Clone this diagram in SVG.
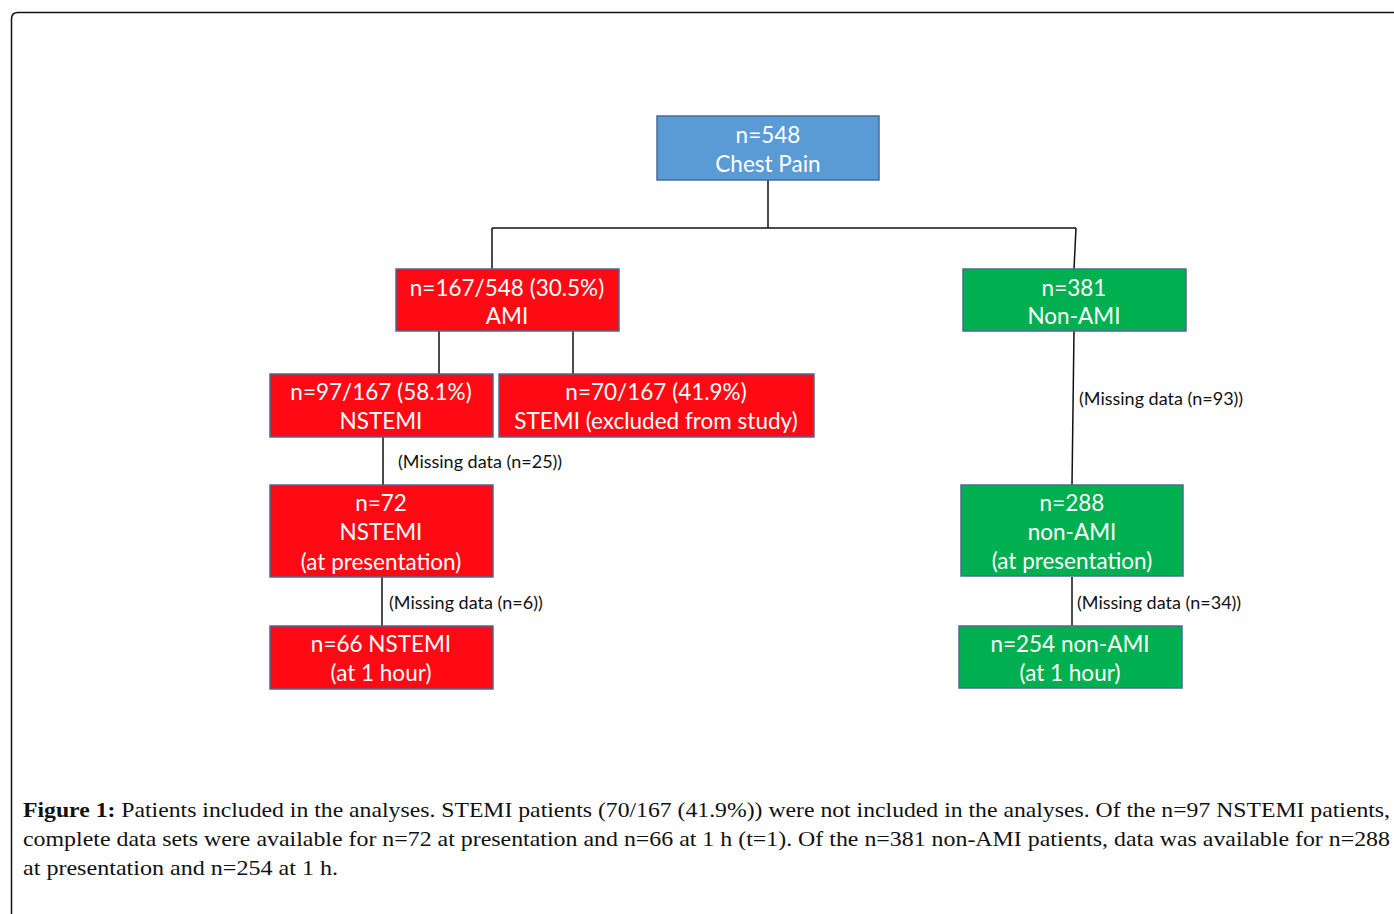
<svg xmlns="http://www.w3.org/2000/svg" width="1394" height="914" viewBox="0 0 1394 914">
<style>
.box{stroke:#4a6a96;stroke-width:1.5}
.blue{fill:#5b9bd5}
.red{fill:#ff0a14}
.green{fill:#00b050}
.bt{font-family:Lato,"Open Sans",sans-serif;font-size:22.5px;fill:#fff;text-anchor:middle}
.lab{font-family:Lato,"Open Sans",sans-serif;font-size:18px;fill:#111}
.cap{font-family:"Liberation Serif",serif;font-size:21px;fill:#111}
.conn line{stroke:#111;stroke-width:1.5}
</style>
<rect width="1394" height="914" fill="#fff"/>
<path d="M11.5,914 V19 Q11.5,12.5 18,12.5 H1394" fill="none" stroke="#111" stroke-width="1.5"/>
<g class="conn" id="connectors">
<line x1="768" y1="180" x2="768" y2="228"/>
<line x1="492" y1="228" x2="1076" y2="228"/>
<line x1="492" y1="228" x2="492" y2="269"/>
<line x1="1076" y1="228" x2="1074" y2="269"/>
<line x1="439" y1="331" x2="439" y2="374"/>
<line x1="573" y1="331" x2="573" y2="374"/>
<line x1="383" y1="437" x2="383" y2="485"/>
<line x1="382" y1="577" x2="382" y2="626"/>
<line x1="1074" y1="331" x2="1072" y2="485"/>
<line x1="1072" y1="577" x2="1072" y2="626"/>
</g>
<g id="chest"><rect class="box blue" x="657" y="116" width="222" height="64"/><text class="bt" x="768" y="143">n=548</text><text class="bt" x="768" y="172">Chest Pain</text></g>
<g id="ami"><rect class="box red" x="396" y="269" width="223" height="62"/><text class="bt" x="507" y="296">n=167/548 (30.5%)</text><text class="bt" x="507" y="324">AMI</text></g>
<g id="nonami"><rect class="box green" x="963" y="269" width="223" height="62"/><text class="bt" x="1074" y="296">n=381</text><text class="bt" x="1074" y="324">Non-AMI</text></g>
<g id="nstemi"><rect class="box red" x="270" y="374" width="223" height="63"/><text class="bt" x="381" y="400">n=97/167 (58.1%)</text><text class="bt" x="381" y="429">NSTEMI</text></g>
<g id="stemi"><rect class="box red" x="499" y="374" width="315" height="63"/><text class="bt" x="656" y="400">n=70/167 (41.9%)</text><text class="bt" x="656" y="429">STEMI (excluded from study)</text></g>
<g id="nstemi72"><rect class="box red" x="270" y="485" width="223" height="92"/><text class="bt" x="381" y="511">n=72</text><text class="bt" x="381" y="540">NSTEMI</text><text class="bt" x="381" y="570">(at presentation)</text></g>
<g id="nstemi66"><rect class="box red" x="270" y="626" width="223" height="63"/><text class="bt" x="381" y="652">n=66 NSTEMI</text><text class="bt" x="381" y="681">(at 1 hour)</text></g>
<g id="nonami288"><rect class="box green" x="961" y="485" width="222" height="91"/><text class="bt" x="1072" y="511">n=288</text><text class="bt" x="1072" y="540">non-AMI</text><text class="bt" x="1072" y="569">(at presentation)</text></g>
<g id="nonami254"><rect class="box green" x="959" y="626" width="223" height="62"/><text class="bt" x="1070" y="652">n=254 non-AMI</text><text class="bt" x="1070" y="681">(at 1 hour)</text></g>
<g id="labels">
<text class="lab" x="1079" y="405">(Missing data (n=93))</text>
<text class="lab" x="398" y="468">(Missing data (n=25))</text>
<text class="lab" x="389" y="609">(Missing data (n=6))</text>
<text class="lab" x="1077" y="609">(Missing data (n=34))</text>
</g>
<g id="caption">
<text class="cap" x="23" y="817" textLength="1367" lengthAdjust="spacingAndGlyphs"><tspan font-weight="bold">Figure 1:</tspan> Patients included in the analyses. STEMI patients (70/167 (41.9%)) were not included in the analyses. Of the n=97 NSTEMI patients,</text>
<text class="cap" x="23" y="846" textLength="1367" lengthAdjust="spacingAndGlyphs">complete data sets were available for n=72 at presentation and n=66 at 1 h (t=1). Of the n=381 non-AMI patients, data was available for n=288</text>
<text class="cap" x="23" y="875" textLength="315" lengthAdjust="spacingAndGlyphs">at presentation and n=254 at 1 h.</text>
</g>
</svg>
